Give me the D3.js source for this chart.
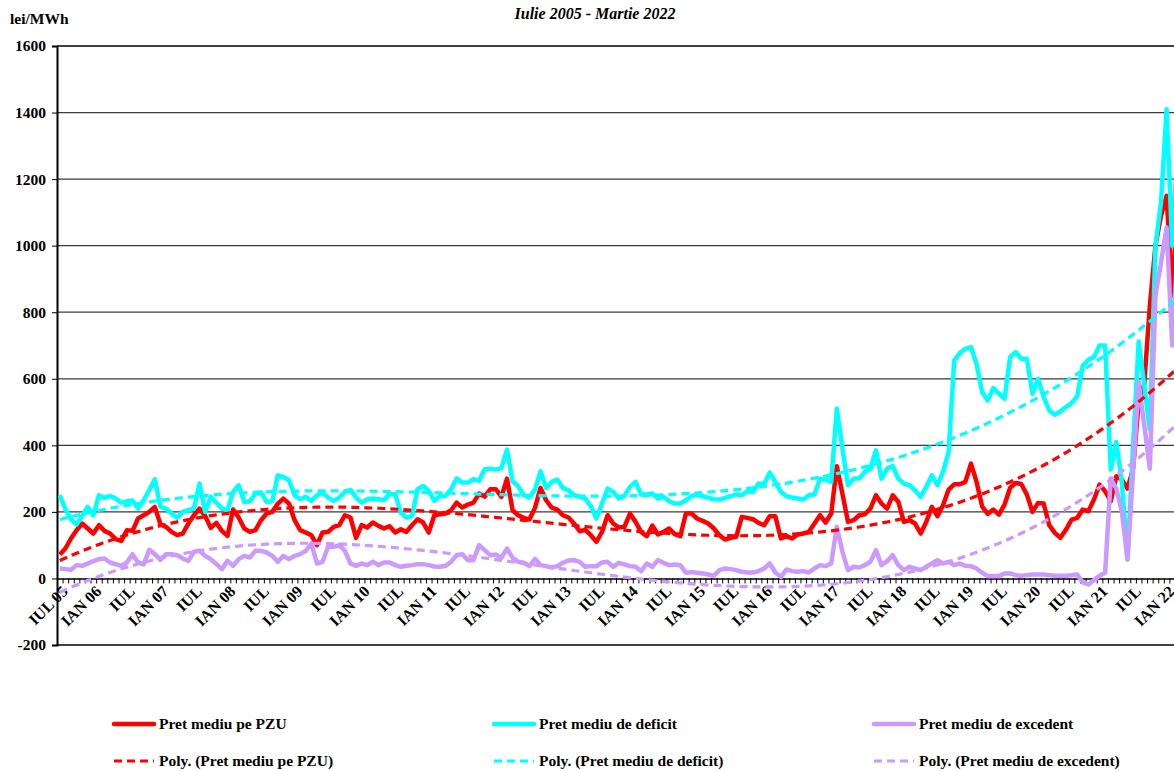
<!DOCTYPE html>
<html>
<head>
    <meta charset="utf-8">
    <title>Pret mediu PZU</title>
    <script src="https://d3js.org/d3.v7.min.js"></script>
    <style>
        body { margin: 0; background: #fff; }
        svg { display: block; font-family: "Liberation Serif", "Times New Roman", serif; }
    </style>
</head>
<body>
    <div id="vis"></div>
    <script>
        // Iulie 2005 - Martie 2022, lei/MWh, one value per month
        var pzu = [72, 90, 120, 145, 165, 150, 135, 160, 143, 135, 118, 113, 145, 143, 180, 190, 200, 215, 163, 155,
            140, 130, 135, 165, 190, 210, 188, 152, 167, 143, 128, 207, 183, 150, 140, 145, 175, 195, 200, 225,
            240, 225, 175, 145, 138, 130, 100, 138, 140, 155, 160, 190, 183, 122, 160, 153, 168, 158, 150, 157,
            138, 148, 140, 160, 178, 168, 138, 190, 193, 195, 205, 228, 213, 222, 228, 255, 246, 268, 268, 245,
            300, 205, 190, 182, 177, 212, 272, 235, 213, 207, 190, 183, 165, 142, 146, 130, 110, 140, 190, 165,
            153, 155, 195, 170, 140, 127, 159, 132, 140, 150, 133, 127, 195, 195, 180, 173, 165, 150, 130, 117,
            122, 125, 185, 182, 178, 167, 160, 187, 187, 120, 127, 120, 132, 135, 140, 165, 190, 168, 195, 337,
            255, 170, 175, 190, 193, 210, 250, 225, 210, 250, 230, 170, 175, 165, 135, 170, 215, 187, 220, 267,
            283, 283, 290, 345, 290, 216, 194, 207, 192, 222, 272, 287, 284, 252, 200, 227, 225, 160, 137, 122,
            147, 177, 182, 207, 202, 237, 282, 262, 232, 307, 297, 270, 330, 530, 585, 820, 1000, 1090, 1150, 850,
            1150];

        var deficit = [250, 208, 178, 162, 188, 215, 190, 250, 242, 248, 240, 228, 232, 234, 210, 235, 265, 298, 215, 210,
            195, 183, 200, 205, 210, 285, 200, 245, 228, 210, 205, 260, 280, 230, 232, 255, 258, 230, 232, 310,
            305, 295, 250, 238, 245, 233, 250, 258, 243, 233, 243, 260, 266, 243, 228, 238, 240, 238, 236, 253,
            253, 198, 183, 188, 268, 278, 263, 233, 248, 248, 268, 300, 288, 288, 298, 293, 328, 330, 327, 332,
            387, 292, 277, 250, 243, 267, 322, 272, 290, 297, 272, 265, 250, 245, 240, 217, 180, 225, 270, 260,
            240, 248, 275, 290, 252, 252, 255, 240, 245, 232, 225, 225, 235, 247, 252, 247, 243, 238, 237, 242,
            247, 253, 250, 262, 260, 285, 284, 318, 290, 260, 247, 243, 240, 237, 250, 252, 300, 297, 290, 510,
            390, 280, 300, 300, 320, 330, 385, 300, 330, 338, 300, 285, 280, 265, 245, 275, 310, 280, 320, 380,
            655, 677, 690, 695, 644, 560, 535, 572, 555, 540, 665, 680, 660, 660, 555, 600, 545, 505, 492, 502,
            515, 527, 547, 640, 657, 665, 700, 700, 327, 410, 287, 57, 400, 712, 580, 447, 1000, 1130, 1410, 1000,
            1300];

        var excedent = [30, 28, 26, 40, 38, 45, 52, 58, 60, 48, 43, 38, 48, 73, 48, 42, 86, 73, 56, 73,
            73, 70, 60, 53, 80, 83, 68, 58, 43, 28, 53, 38, 58, 68, 63, 83, 83, 78, 68, 50,
            68, 58, 68, 73, 83, 105, 45, 50, 95, 95, 100, 83, 45, 38, 45, 40, 50, 40, 48, 48,
            40, 35, 38, 40, 43, 43, 40, 36, 35, 38, 50, 70, 73, 55, 55, 100, 85, 70, 72, 62,
            90, 62, 50, 47, 37, 59, 40, 37, 33, 37, 47, 54, 55, 50, 35, 37, 37, 48, 50, 35,
            47, 42, 37, 35, 22, 45, 35, 55, 47, 40, 42, 40, 17, 19, 17, 15, 12, 8, 25, 30,
            28, 25, 20, 18, 18, 22, 30, 45, 18, 5, 27, 22, 20, 22, 18, 30, 40, 37, 45, 155,
            80, 25, 35, 33, 40, 50, 85, 40, 52, 70, 40, 25, 35, 30, 25, 35, 45, 55, 45, 50,
            40, 45, 38, 37, 30, 17, 7, 7, 7, 15, 15, 10, 8, 10, 12, 12, 12, 10, 8, 8,
            8, 10, 12, -12, -18, -5, 8, 17, 300, 270, 200, 57, 320, 590, 460, 330, 850, 950, 1055, 700,
            1000];

        // one label every 6 months, starting at Jul 2005
        var xLabels = ["IUL 05", "IAN 06", "IUL", "IAN 07", "IUL", "IAN 08", "IUL", "IAN 09", "IUL", "IAN 10",
            "IUL", "IAN 11", "IUL", "IAN 12", "IUL", "IAN 13", "IUL", "IAN 14", "IUL", "IAN 15",
            "IUL", "IAN 16", "IUL", "IAN 17", "IUL", "IAN 18", "IUL", "IAN 19", "IUL", "IAN 20",
            "IUL", "IAN 21", "IUL", "IAN 22"];
        var yTicks = [-200, 0, 200, 400, 600, 800, 1000, 1200, 1400, 1600];

        var seriesNames = ["Pret mediu pe PZU", "Pret mediu de deficit", "Pret mediu de excedent"];
        var seriesColors = ["#ff0000", "#00ffff", "#cc99ff"];
        var seriesData = [pzu, deficit, excedent];

        var width = 1174, height = 771;
        var plot = {left: 57, top: 46, bottom: 645, right: 1180.6};

        var svg = d3.select("#vis").append("svg")
            .attr("width", width)
            .attr("height", height);

        var x = d3.scalePoint()
            .domain(d3.range(pzu.length))
            .range([plot.left, plot.right])
            .padding(0.5);
        var xEdge = d3.scaleLinear()
            .domain([0, pzu.length])
            .range([plot.left, plot.right]);
        var y = d3.scaleLinear()
            .domain([-200, 1600])
            .range([plot.bottom, plot.top]);

        // gridlines
        svg.append("g")
            .selectAll("line")
            .data(yTicks.filter(function(d) { return d > 0 && d < 1600; }))
            .enter().append("line")
            .attr("x1", plot.left).attr("x2", width)
            .attr("y1", function(d) { return y(d); })
            .attr("y2", function(d) { return y(d); })
            .attr("stroke", "#3a3a3a")
            .attr("stroke-width", 1.2);

        // top and bottom borders
        [1600, -200].forEach(function(v) {
            svg.append("line")
                .attr("x1", plot.left).attr("x2", width)
                .attr("y1", y(v)).attr("y2", y(v))
                .attr("stroke", "#000")
                .attr("stroke-width", 1.6);
        });

        // y axis
        var yAxis = svg.append("g")
            .attr("transform", "translate(" + plot.left + ",0)")
            .call(d3.axisLeft(y).tickValues(yTicks).tickSize(5).tickPadding(6)
                .tickFormat(function(d) { return String(d); }));
        yAxis.select(".domain").attr("stroke-width", 2);
        yAxis.selectAll("text")
            .attr("font-family", "Liberation Serif")
            .attr("font-weight", "bold")
            .attr("font-size", "15.5px")
            .attr("fill", "#000");

        // x axis on the zero line, ticks between months
        var xAxis = svg.append("g")
            .attr("transform", "translate(0," + y(0) + ")")
            .call(d3.axisBottom(xEdge).tickValues(d3.range(pzu.length + 1)).tickSize(5).tickSizeOuter(0).tickFormat(""));
        xAxis.select(".domain").attr("stroke-width", 1.6);
        xAxis.selectAll(".tick line").attr("stroke-width", 1);

        svg.append("g")
            .selectAll("text")
            .data(xLabels)
            .enter().append("text")
            .attr("transform", function(d, i) {
                return "translate(" + (x(i * 6) + 9) + "," + (y(0) + 14) + ")rotate(-45)";
            })
            .attr("text-anchor", "end")
            .attr("font-weight", "bold")
            .attr("font-size", "16px")
            .text(function(d) { return d; });

        // least squares polynomial, like the Excel trendline
        function polyFit(ys, order) {
            var n = order + 1, A = [], b = [];
            for (var r = 0; r < n; r++) { A.push(new Array(n).fill(0)); b.push(0); }
            ys.forEach(function(v, i) {
                var t = (i + 1) / 100;
                for (var r = 0; r < n; r++) {
                    b[r] += v * Math.pow(t, r);
                    for (var c = 0; c < n; c++) A[r][c] += Math.pow(t, r + c);
                }
            });
            for (var k = 0; k < n; k++) {
                for (var r = k + 1; r < n; r++) {
                    var f = A[r][k] / A[k][k];
                    for (var c = k; c < n; c++) A[r][c] -= f * A[k][c];
                    b[r] -= f * b[k];
                }
            }
            var coef = new Array(n).fill(0);
            for (var k = n - 1; k >= 0; k--) {
                var s = b[k];
                for (var c = k + 1; c < n; c++) s -= A[k][c] * coef[c];
                coef[k] = s / A[k][k];
            }
            return function(i) {
                var t = (i + 1) / 100;
                return coef.reduce(function(s, c, p) { return s + c * Math.pow(t, p); }, 0);
            };
        }

        var line = d3.line()
            .x(function(d, i) { return x(i); })
            .y(function(d) { return y(d); });

        seriesData.forEach(function(data, k) {
            svg.append("path")
                .datum(data)
                .attr("d", line)
                .attr("fill", "none")
                .attr("stroke", seriesColors[k])
                .attr("stroke-width", 4.5)
                .attr("stroke-linejoin", "round");
        });

        seriesData.forEach(function(data, k) {
            var f = polyFit(data, 3);
            svg.append("path")
                .datum(data.map(function(d, i) { return f(i); }))
                .attr("d", line)
                .attr("fill", "none")
                .attr("stroke", seriesColors[k])
                .attr("stroke-width", 3.2)
                .attr("stroke-dasharray", "8,5");
        });

        // titles
        svg.append("text")
            .attr("x", 595).attr("y", 19)
            .attr("text-anchor", "middle")
            .attr("font-weight", "bold")
            .attr("font-style", "italic")
            .attr("font-size", "16px")
            .text("Iulie 2005 - Martie 2022");
        svg.append("text")
            .attr("x", 10).attr("y", 24)
            .attr("font-weight", "bold")
            .attr("font-size", "15.5px")
            .text("lei/MWh");

        // legend
        var legendX = [112, 492, 872], legendY = [724, 761];
        var legendItems = [];
        seriesNames.forEach(function(name, k) {
            legendItems.push({ label: name, color: seriesColors[k], dashed: false, col: k, row: 0 });
            legendItems.push({ label: "Poly. (" + name + ")", color: seriesColors[k], dashed: true, col: k, row: 1 });
        });
        var legend = svg.append("g").selectAll("g")
            .data(legendItems)
            .enter().append("g")
            .attr("transform", function(d) { return "translate(" + legendX[d.col] + "," + legendY[d.row] + ")"; });
        legend.append("line")
            .attr("x1", 2).attr("x2", 42)
            .attr("stroke", function(d) { return d.color; })
            .attr("stroke-width", function(d) { return d.dashed ? 3.2 : 4.5; })
            .attr("stroke-linecap", function(d) { return d.dashed ? "butt" : "round"; })
            .attr("stroke-dasharray", function(d) { return d.dashed ? "8,5" : null; });
        legend.append("text")
            .attr("x", 47).attr("y", 5)
            .attr("font-weight", "bold")
            .attr("font-size", "15.5px")
            .text(function(d) { return d.label; });
    </script>
</body>
</html>
